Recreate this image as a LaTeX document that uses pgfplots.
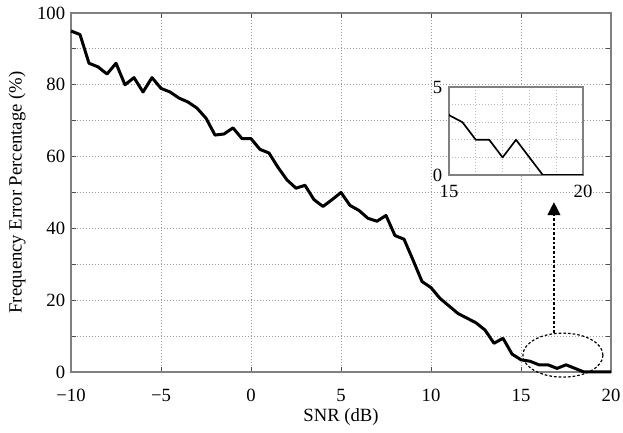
\documentclass[border=0pt]{standalone}
\usepackage{fontspec}
\setmainfont{Liberation Serif}
\usepackage{pgfplots}
\pgfplotsset{compat=1.18}
\usetikzlibrary{arrows.meta}

\definecolor{framegray}{gray}{0.5}
\definecolor{gridgray}{gray}{0.6}
\newcommand{\lblfont}{\fontsize{11.2}{13}\selectfont}

\pgfplotstableread{
snr err
-10 95
-9.5 94
-9 86
-8.5 85
-8 83
-7.5 86
-7 80
-6.5 82
-6 78
-5.5 82
-5 79
-4.5 78
-4 76.3
-3.5 75.2
-3 73.5
-2.5 70.7
-2 66
-1.5 66.3
-1 68
-0.5 65
0 65
0.5 62
1 61
1.5 57
2 53.5
2.5 51.2
3 52
3.5 48
4 46.1
4.5 48
5 50
5.5 46.4
6 45
6.5 42.8
7 42
7.5 43.6
8 38
8.5 37
9 31.2
9.5 25.2
10 23.5
10.5 20.5
11 18.4
11.5 16.3
12 15
12.5 13.7
13 11.7
13.5 8
14 9.4
14.5 5
15 3.4
15.5 3
16 2
16.5 2
17 1
17.5 2
18 1
18.5 0
19 0
19.5 0
20 0
}\errtable

\begin{document}
\begin{tikzpicture}
\useasboundingbox (-42.6pt,-36pt) rectangle (331.2pt,223.2pt);
\begin{axis}[
  scale only axis,
  width=324pt, height=215.4pt,
  xmin=-10, xmax=20, ymin=0, ymax=100,
  xtick={-10,-5,0,5,10,15,20},
  xticklabels={−10,−5,0,5,10,15,20},
  ytick={0,10,...,100},
  yticklabels={0,,20,,40,,60,,80,,100},
  tick align=inside,
  major tick length=3pt,
  tick style={color=black!70, line width=0.5pt},
  axis line style={color=framegray, line width=0.8pt},
  grid=major,
  major grid style={color=gridgray, line width=0.6pt, dash pattern=on 0.6pt off 1.2pt},
  /pgf/number format/assume math mode=true,
  every tick label/.append style={font=\lblfont, text=black},
  xticklabel style={yshift=-7pt},
  xlabel={SNR (dB)},
  ylabel={Frequency Error Percentage (\%)},
  label style={font=\lblfont},
  xlabel style={yshift=3pt},
  clip=false,
]
\addplot[black, line width=1.8pt, line join=round] table[x=snr, y=err] {\errtable};
\draw[black, line width=0.7pt, dash pattern=on 1.6pt off 1.2pt]
  (axis cs:17.33,4.7) ellipse [x radius=24pt, y radius=13.2pt];
\draw[black, line width=0.7pt, dash pattern=on 1.6pt off 1.2pt,
  -{Triangle[width=7.8pt,length=7.8pt,sep=0pt]}]
  (axis cs:16.83,10.9) -- (axis cs:16.83,47.3);
\end{axis}
\begin{axis}[
  at={(226.8pt,118.2pt)}, anchor=south west,
  scale only axis,
  width=80.4pt, height=52.8pt,
  xmin=15, xmax=20, ymin=0, ymax=5,
  xtick={15,20}, ytick={0,5},
  minor xtick={16,17,18,19}, minor ytick={1,2,3,4},
  tick align=inside,
  major tick length=0pt, minor tick length=0pt,
  axis line style={color=framegray, line width=0.8pt},
  axis background/.style={fill=white},
  grid=both,
  major grid style={draw=none},
  minor grid style={color=gridgray!70, line width=0.5pt, dash pattern=on 0.6pt off 1.2pt},
  /pgf/number format/assume math mode=true,
  every tick label/.append style={font=\lblfont, text=black},
  xticklabel style={yshift=-2.5pt},
  yticklabel style={xshift=-0.5pt},
]
\addplot[black, line width=1pt, line join=round] table[x=snr, y=err] {\errtable};
\end{axis}
\end{tikzpicture}
\end{document}
